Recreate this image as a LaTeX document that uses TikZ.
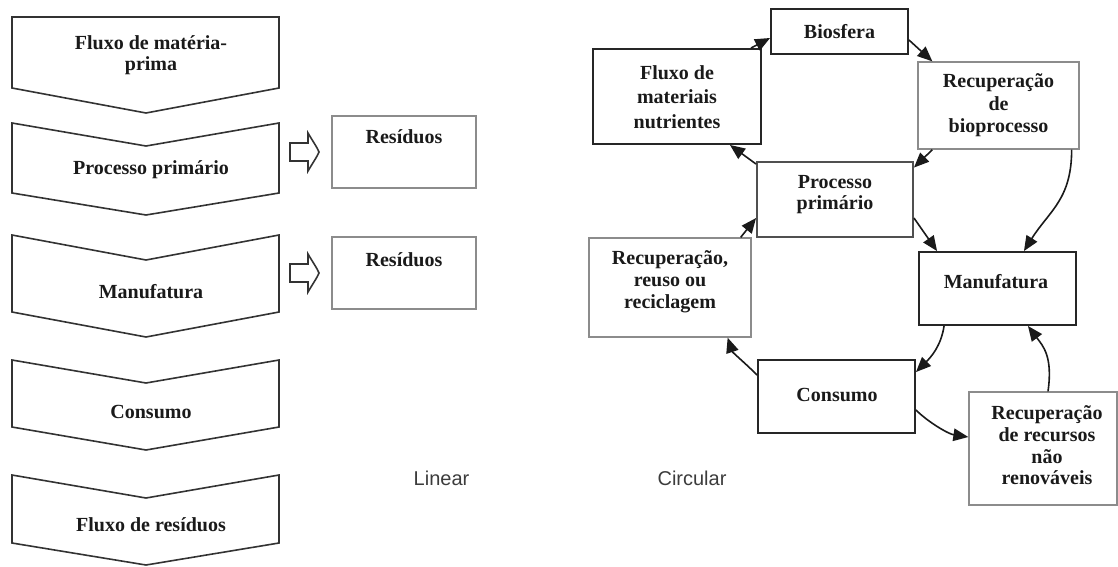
\documentclass[tikz,border=0pt]{standalone}
\usepackage{fontspec}
\setmainfont{Liberation Serif}
\newfontfamily\capsans{Liberation Sans}
\usetikzlibrary{arrows.meta}
\definecolor{ink}{HTML}{1A1A1A}
\definecolor{chevc}{HTML}{333333}
\definecolor{boxdark}{HTML}{262626}
\definecolor{boxmid}{HTML}{505050}
\definecolor{boxlight}{HTML}{8C8C8C}
\definecolor{captc}{HTML}{3C3C3C}
\begin{document}
\begin{tikzpicture}[x=1pt,y=-1pt,
  lbl/.style={font=\fontsize{20}{#1}\selectfont\bfseries, text=ink, align=center, inner sep=0pt},
  lbl/.default=22,
  chev/.style={draw=chevc, line width=1.6pt, line join=miter, fill=white},
  hollow/.style={draw=chevc, line width=1.6pt, line join=miter},
  darkbox/.style={draw=boxdark, line width=1.9pt, rectangle, inner sep=0pt},
  midbox/.style={draw=boxmid, line width=1.9pt, rectangle, inner sep=0pt},
  lightbox/.style={draw=boxlight, line width=1.3pt, rectangle, inner sep=0pt},
  conn/.style={draw=ink, line width=1.6pt, -{Triangle[length=15pt,width=12.5pt]}},
  capt/.style={font=\capsans\fontsize{20}{24}\selectfont, text=captc, inner sep=0pt}]
\path[use as bounding box] (0,0) rectangle (1118,566);

% ---------------- Linear ----------------
\draw[chev] (12,17) -- (279,17) -- (279,88) -- (146,113) -- (12,88) -- cycle;
\draw[chev] (12,123) -- (146,146) -- (279,123) -- (279,193) -- (146,215) -- (12,193) -- cycle;
\draw[chev] (12,235) -- (146,260) -- (279,235) -- (279,312) -- (146,337) -- (12,312) -- cycle;
\draw[chev] (12,360) -- (146,383) -- (279,360) -- (279,427) -- (146,450) -- (12,427) -- cycle;
\draw[chev] (12,475) -- (146,498) -- (279,475) -- (279,543) -- (146,565) -- (12,543) -- cycle;

\node[lbl=21] (c1) at (151,55) {Fluxo de matéria-\\prima};
\node[lbl] (c2) at (151,170) {Processo primário};
\node[lbl] (c3) at (151,292) {Manufatura};
\node[lbl] (c4) at (151,412) {Consumo};
\node[lbl] (c5) at (151,525) {Fluxo de resíduos};

\node[lightbox, minimum width=144pt, minimum height=72pt] (res1) at (404,152) {};
\node[lbl] (res1t) at (404,137) {Resíduos};
\node[lightbox, minimum width=144pt, minimum height=72pt] (res2) at (404,273) {};
\node[lbl] (res2t) at (404,260) {Resíduos};

\foreach \c in {152,273}{
  \draw[hollow] (290,\c-9) -- (308,\c-9) -- (308,\c-19)
    .. controls (312,\c-12) and (317,\c-5) .. (319,\c)
    .. controls (317,\c+5) and (312,\c+12) .. (308,\c+19)
    -- (308,\c+9) -- (290,\c+9) -- cycle;
}

\node[capt] (lin) at (441.5,478) {Linear};
\node[capt] (circ) at (692,478) {Circular};

% ---------------- Circular ----------------
\node[darkbox, minimum width=137pt, minimum height=45pt] (bios) at (839.5,31.5) {};
\node[lbl] (biost) at (839.5,32) {Biosfera};

\node[darkbox, minimum width=168pt, minimum height=95pt] (fluxo) at (677,96.5) {};
\node[lbl=24.5] (fluxot) at (677,97) {Fluxo de\\materiais\\nutrientes};

\node[lightbox, minimum width=161pt, minimum height=87pt] (biop) at (998.5,105.5) {};
\node[lbl=22.5] (biopt) at (998.5,105.5) {Recuperação\\de\\bioprocesso};

\node[midbox, minimum width=156pt, minimum height=75pt] (proc) at (835,199.5) {};
\node[lbl=21] (proct) at (835,194.5) {Processo\\primário};

\node[darkbox, minimum width=157pt, minimum height=73pt] (manu) at (997.5,288.5) {};
\node[lbl] (manut) at (996,282) {Manufatura};

\node[lightbox, minimum width=162pt, minimum height=99pt] (reuso) at (670,287.5) {};
\node[lbl=22] (reusot) at (670,282) {Recuperação,\\reuso ou\\reciclagem};

\node[darkbox, minimum width=157pt, minimum height=73pt] (cons) at (836.5,396.5) {};
\node[lbl] (const) at (837,395) {Consumo};

\node[lightbox, minimum width=148pt, minimum height=113pt] (recr) at (1043,448.5) {};
\node[lbl=21.7] (recrt) at (1047,445.5) {Recuperação\\de recursos\\não\\renováveis};

% connectors
\draw[conn] ([xshift=-11pt]fluxo.north east) -- ([yshift=-6.5pt]bios.west);
\draw[conn] ([yshift=-8.5pt]bios.east) -- ([xshift=15pt]biop.north west);
\draw[conn] ([xshift=15pt]biop.south west) -- ([yshift=-6.5pt]proc.north east);
\draw[conn] ([xshift=-8pt]biop.south east) .. controls +(0,50) and +(25,-40) .. ([xshift=-53pt]manu.north east);
\draw[conn] ([yshift=-18.5pt]proc.east) -- ([xshift=19pt]manu.north west);
\draw[conn] ([yshift=-3pt]proc.north west) -- ([xshift=-32pt]fluxo.south east);
\draw[conn] ([xshift=-11pt]reuso.north east) -- ([yshift=-18.5pt]proc.west);
\draw[conn] ([xshift=26pt]manu.south west) .. controls +(-3,20) and +(15,-15) .. ([yshift=-13pt]cons.north east);
\draw[conn] ([yshift=21.5pt]cons.west) .. controls +(-12,-12) and +(5,15) .. ([xshift=-24pt]reuso.south east);
\draw[conn] ([yshift=-13.5pt]cons.east) .. controls +(12,12) and +(-20,-3) .. ([yshift=11.5pt]recr.west);
\draw[conn] ([xshift=5pt]recr.north) .. controls +(5,-35) and +(15,20) .. ([xshift=-49pt]manu.south east);
\end{tikzpicture}
\end{document}
